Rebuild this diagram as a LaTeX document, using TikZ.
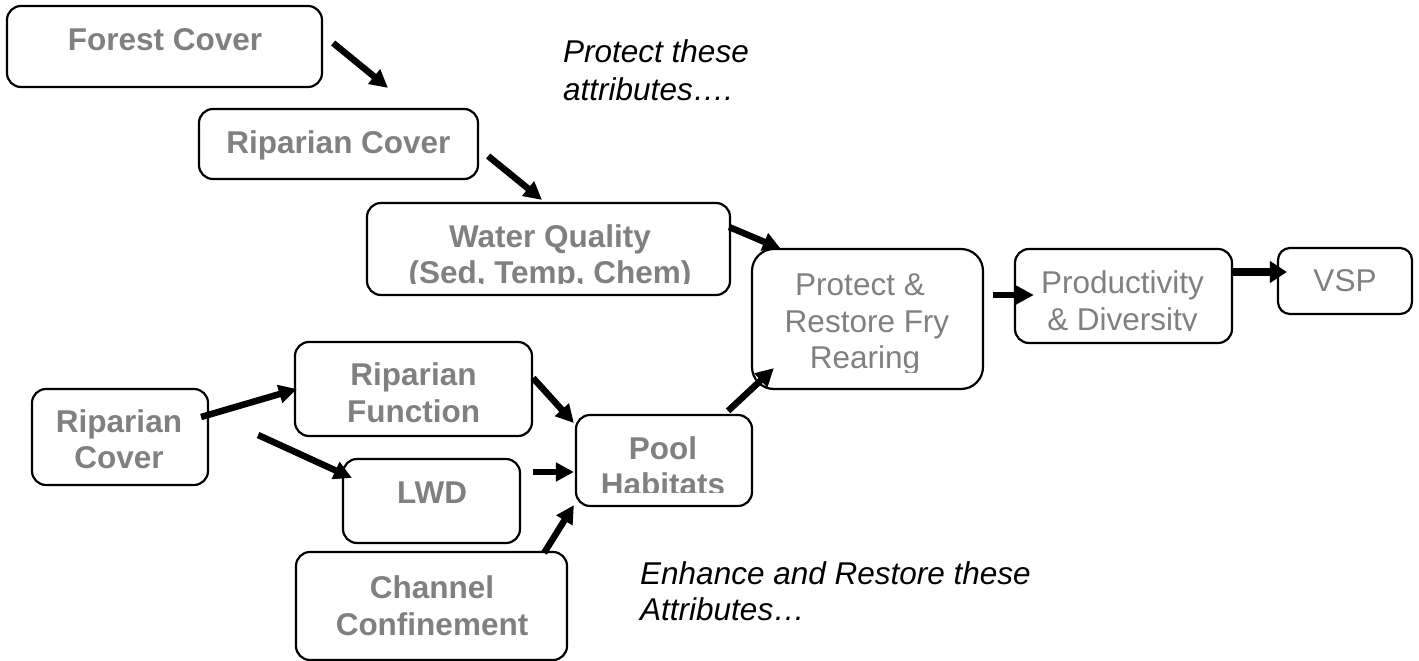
\documentclass[tikz,border=0pt]{standalone}
\usepackage{fontspec}
\setmainfont{Liberation Sans}
\usetikzlibrary{arrows.meta}
\definecolor{lblgray}{HTML}{808080}
\begin{document}
\begin{tikzpicture}[x=1pt,y=-1pt,
  box/.style={draw=black, line width=2.2pt, rounded corners=14pt, inner sep=0pt},
  lb/.style={text=lblgray, font=\bfseries\fontsize{31.5}{36.5}\selectfont, inner sep=0pt, anchor=base},
  lr/.style={text=lblgray, font=\fontsize{31.5}{36.5}\selectfont, inner sep=0pt, anchor=base},
  note/.style={text=black, font=\itshape\fontsize{31.5}{36.5}\selectfont, inner sep=0pt, anchor=base west},
  arr/.style={line width=6.5pt, -{Triangle[length=18pt,width=18pt]}},
  arrb/.style={line width=8pt, -{Triangle[length=17pt,width=21pt]}},
]
\useasboundingbox (0,0) rectangle (1419,661);

% boxes
\node[box, minimum width=315pt, minimum height=81pt] (fc) at (164.5,46.5) {};
\node[box, minimum width=279pt, minimum height=70pt] (rc1) at (338.5,144) {};
\node[box, minimum width=363pt, minimum height=92pt] (wq) at (548.5,249) {};
\node[box, rounded corners=22pt, minimum width=231pt, minimum height=140pt] (pr) at (867.5,319) {};
\node[box, minimum width=217pt, minimum height=94pt] (pd) at (1123.5,296) {};
\node[box, rounded corners=12pt, minimum width=134pt, minimum height=66pt] (vsp) at (1345,281) {};
\node[box, minimum width=176pt, minimum height=96pt] (rc2) at (120,437) {};
\node[box, minimum width=237pt, minimum height=94pt] (rf) at (413.5,389) {};
\node[box, minimum width=177pt, minimum height=84pt] (lwd) at (431.5,501) {};
\node[box, minimum width=271pt, minimum height=108pt] (cc) at (431.5,606) {};
\node[box, minimum width=176pt, minimum height=91pt] (pool) at (664,460.5) {};

% labels
\node[lb] (fcT) at (165,51) {Forest Cover};
\node[lb] (rc1T) at (338.5,153) {Riparian Cover};
\begin{scope}
  \clip (367,203) rectangle (730,283.5);
  \node[lb] (wqT1) at (550,247) {Water Quality};
  \node[lb] (wqT2) at (550,283) {(Sed, Temp, Chem)};
\end{scope}
\begin{scope}
  \clip (752,249) rectangle (983,372);
  \node[lr] (prT1) at (860,295) {Protect \&};
  \node[lr] (prT2) at (867,332) {Restore Fry};
  \node[lr] (prT3) at (865,368) {Rearing};
\end{scope}
\begin{scope}
  \clip (1015,249) rectangle (1232,330);
  \node[lr] (pdT1) at (1122.5,293) {Productivity};
  \node[lr] (pdT2) at (1122.5,330) {\& Diversity};
\end{scope}
\node[lr] (vspT) at (1345,291) {VSP};
\node[lb] (rc2T1) at (119,432) {Riparian};
\node[lb] (rc2T2) at (119,468) {Cover};
\node[lb] (rfT1) at (413.5,385) {Riparian};
\node[lb] (rfT2) at (413.5,422) {Function};
\node[lb] (lwdT) at (432,503) {LWD};
\node[lb] (ccT1) at (432,598) {Channel};
\node[lb] (ccT2) at (432,635) {Confinement};
\begin{scope}
  \clip (576,415) rectangle (752,492);
  \node[lb] (poolT1) at (663,459) {Pool};
  \node[lb] (poolT2) at (663,495) {Habitats};
\end{scope}

% notes
\node[note] (n1a) at (563,63) {Protect these};
\node[note] (n1b) at (563,100) {attributes….};
\node[note] (n2a) at (640,584) {Enhance and Restore these};
\node[note] (n2b) at (640,620) {Attributes…};

% arrows
\draw[arr] ([shift={(10,-3.5)}]fc.east) -- ([shift={(49.5,-20)}]rc1.north);
\draw[arr] ([shift={(9,12)}]rc1.east) -- ([shift={(-6.5,-2)}]wq.north);
\draw[arr] ([shift={(-2,-22)}]wq.east) -- ([shift={(30,1)}]pr.north west);
\draw[arr] ([shift={(9,-24)}]pr.east) -- ([shift={(20,-1)}]pd.west);
\draw[arrb] ([shift={(0,-24)}]pd.east) -- ([shift={(10,-9)}]vsp.west);
\draw[arr] ([shift={(-8,-20)}]rc2.east) -- ([shift={(3,0)}]rf.west);
\draw[arr] ([shift={(49,-2)}]rc2.east) -- ([shift={(10,20)}]lwd.north west);
\draw[arr] ([shift={(0,-11)}]rf.east) -- ([shift={(-1,-37.5)}]pool.west);
\draw[arr] ([shift={(12,-29)}]lwd.east) -- ([shift={(-1,11.5)}]pool.west);
\draw[arr] ([shift={(-24,2)}]cc.north east) -- ([shift={(-1,-2)}]pool.south west);
\draw[arr] ([shift={(-25,-3)}]pool.north east) -- ([shift={(23,-22)}]pr.south west);
\end{tikzpicture}
\end{document}
